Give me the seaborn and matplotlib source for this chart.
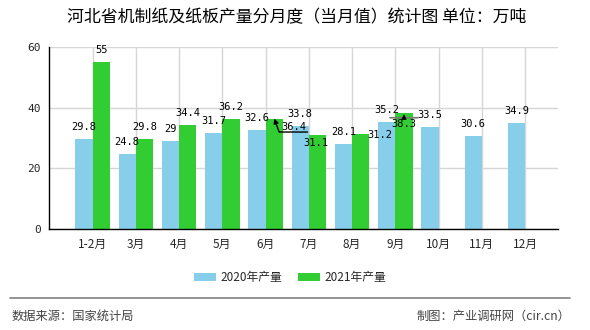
import numpy as np
import pandas as pd
import matplotlib
matplotlib.use("Agg")
import matplotlib.pyplot as plt
from matplotlib.patches import Patch
from matplotlib.lines import Line2D
from matplotlib.transforms import offset_copy
import seaborn as sns

# ---------------- data ----------------
months = ["1-2月", "3月", "4月", "5月", "6月", "7月", "8月", "9月", "10月", "11月", "12月"]
y2020 = [29.8, 24.8, 29, 31.7, 32.6, 33.8, 28.1, 35.2, 33.5, 30.6, 34.9]
y2021 = [55, 29.8, 34.4, 36.2, 36.4, 31.1, 31.2, 38.3, np.nan, np.nan, np.nan]
series_names = ["2020年产量", "2021年产量"]
title = "河北省机制纸及纸板产量分月度（当月值）统计图 单位：万吨"
source_left = "数据来源：国家统计局"
source_right = "制图：产业调研网（cir.cn）"

colors = ["#87CEEB", "#32CD32"]

sns.set_style("white")
plt.rcParams["font.family"] = ["Noto Sans CJK SC", "DejaVu Sans"]

df = pd.DataFrame({
    "month": months * 2,
    "value": y2020 + y2021,
    "series": [series_names[0]] * len(months) + [series_names[1]] * len(months),
})

W, H = 590, 330
fig = plt.figure(figsize=(W / 100, H / 100), dpi=100)
ax = fig.add_axes([49.3 / W, 1 - 229.3 / H, (558 - 49.3) / W, (229.3 - 46.7) / H])

sns.barplot(data=df, x="month", y="value", hue="series", order=months,
            hue_order=series_names, palette=colors, saturation=1, width=0.8,
            ax=ax, legend=False, errorbar=None, linewidth=0, edgecolor="none")

ax.set_xlim(-1, 10.76)
ax.set_ylim(0, 60)
ax.set_yticks([0, 20, 40, 60])
ax.set_xticks(range(len(months)))
ax.set_xticklabels(months, fontsize=8.5)
ax.set_xticks([-1], minor=True)
ax.set_xlabel("")
ax.set_ylabel("")
ax.grid(True, color="#d6d6d6", lw=1)
ax.set_axisbelow(True)
for s in ["top", "right"]:
    ax.spines[s].set_visible(False)
for s in ["left", "bottom"]:
    ax.spines[s].set_color("black")
    ax.spines[s].set_linewidth(1)
ax.tick_params(axis="both", which="both", direction="out", length=4, width=1,
               color="black", pad=2)
for lab in ax.get_yticklabels():
    lab.set_family("DejaVu Sans Mono")
    lab.set_fontsize(8)

# ---------------- value labels ----------------
px = 0.72  # points per pixel
# default: centered 12 px above bar top; special offsets (dx, dy) in px (screen y up)
special = {
    (1, 4): (19.5, -8),
    (1, 5): (-1.5, -8.5),
    (1, 6): (19, -0.5),
    (1, 7): (0, -11.3),
}
label_font = dict(family="DejaVu Sans Mono", fontsize=7.5, color="black")

for k, vals in enumerate([y2020, y2021]):
    shift = -0.2 if k == 0 else 0.2
    for i, v in enumerate(vals):
        if v is None or (isinstance(v, float) and np.isnan(v)):
            continue
        x = i + shift
        txt = f"{v:g}"
        dx, dy = special.get((k, i), (0, 12))
        if (k, i) == (1, 4):
            ax.annotate(txt, xy=(x, v), xytext=(dx * px, dy * px),
                        textcoords="offset points", ha="center", va="center",
                        arrowprops=dict(arrowstyle="-|>", color="black", lw=1,
                                        mutation_scale=7, shrinkA=0, shrinkB=0,
                                        relpos=(1.05, -0.05), patchA=None,
                                        connectionstyle="angle,angleA=0,angleB=-70,rad=0"),
                        **label_font)
        elif (k, i) == (1, 7):
            tr1 = offset_copy(ax.transData, fig=fig, x=-14 * px, y=-5 * px, units="points")
            tr2 = offset_copy(ax.transData, fig=fig, x=14 * px, y=-5 * px, units="points")
            ax.annotate("", xy=(x, v), xycoords=tr2, xytext=(x, v), textcoords=tr1,
                        arrowprops=dict(arrowstyle="-", color="#777777", lw=1.2,
                                        shrinkA=0, shrinkB=0))
            ax.annotate(txt, xy=(x, v), xytext=(dx * px, dy * px),
                        textcoords="offset points", ha="center", va="center",
                        arrowprops=dict(arrowstyle="-|>", color="black", lw=0.8,
                                        mutation_scale=7, shrinkA=0, shrinkB=1,
                                        relpos=(0.5, 1.0), patchA=None),
                        **label_font)
        else:
            ax.annotate(txt, xy=(x, v), xytext=(dx * px, dy * px),
                        textcoords="offset points", ha="center", va="center",
                        **label_font)

# ---------------- title / legend / footer ----------------
fig.text(297 / W, 1 - 17.5 / H, title, ha="center", va="center", fontsize=12.2,
         color="black")

handles = [Patch(facecolor=c, edgecolor="none", label=n) for c, n in zip(colors, series_names)]
fig.legend(handles=handles, loc="center", bbox_to_anchor=(290 / W, 1 - 277.5 / H),
           ncol=2, frameon=False, fontsize=8.5, handlelength=1.86, handleheight=0.64,
           handletextpad=0.35, columnspacing=1.35, borderpad=0, borderaxespad=0)

fig.add_artist(Line2D([10 / W, 570 / W], [1 - 298 / H, 1 - 298 / H],
                      color="#808080", lw=1.2, transform=fig.transFigure))
fig.text(12 / W, 1 - 316.5 / H, source_left, ha="left", va="center",
         fontsize=8.8, color="#444444")
fig.text(570 / W, 1 - 316.5 / H, source_right, ha="right", va="center",
         fontsize=8.8, color="#444444")

fig.savefig("out.png", dpi=100)
